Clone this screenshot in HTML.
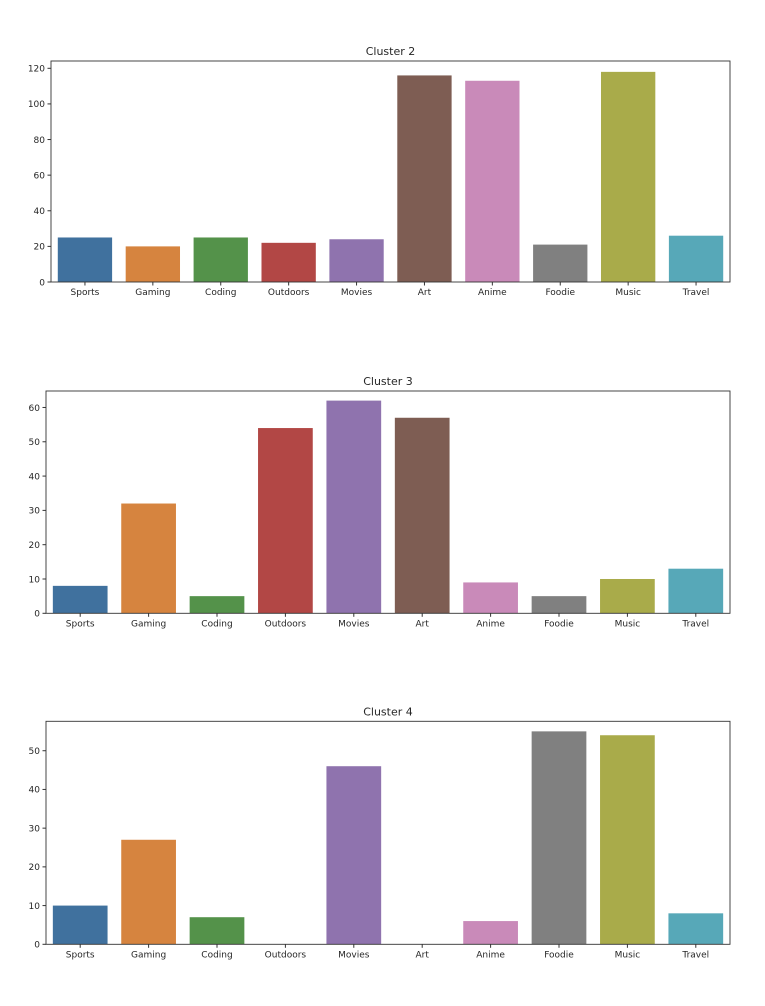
<!DOCTYPE html>
<html><head><meta charset="utf-8"><style>
body{margin:0;background:#fff;}
svg text{font-family:"DejaVu Sans","Liberation Sans",sans-serif;fill:#262626;}
</style></head><body>
<svg id="s" width="765" height="1001"></svg>
<script>
const categories=["Sports","Gaming","Coding","Outdoors","Movies","Art","Anime","Foodie","Music","Travel"];
const colors=["#40719e","#d6843f","#54924a","#b24745","#8f73ae","#7e5d53","#c98ab9","#808080","#a9ab4a","#57a8b8"];
const cluster2Values=[25,20,25,22,24,116,113,21,118,26];
const cluster3Values=[8,32,5,54,62,57,9,5,10,13];
const cluster4Values=[10,27,7,0,46,0,6,55,54,8];
const cluster2Ticks=[0,20,40,60,80,100,120];
const cluster3Ticks=[0,10,20,30,40,50,60];
const cluster4Ticks=[0,10,20,30,40,50];
const NS="http://www.w3.org/2000/svg";
const svg=document.getElementById('s');
function mk(t,a,p){const e=document.createElementNS(NS,t);for(const k in a)e.setAttribute(k,a[k]);(p||svg).appendChild(e);return e;}
function chart(name,title,vals,ticks,ymax,L,T,R,B){
  const g=mk('g',{});
  
  
  const y=v=>B-(v/ymax)*(B-T);
  const bw=(R-L)/categories.length;
  const x=i=>L+bw*i;
  vals.forEach((v,i)=>{
    const r=mk('rect',{x:x(i)+bw*0.1,y:y(v),width:bw*0.8,height:B-y(v),fill:colors[i]},g);
    
    
    mk('line',{x1:x(i)+bw/2,x2:x(i)+bw/2,y1:B,y2:B+3.5,stroke:'#333'},g);
    const t=mk('text',{x:x(i)+bw/2,y:B+13,'font-size':9,'text-anchor':'middle'},g);
    t.textContent=categories[i];
    
    
  });
  ticks.forEach(v=>{
    mk('line',{x1:L-3.5,x2:L,y1:y(v),y2:y(v),stroke:'#333'},g);
    const t=mk('text',{x:L-6,y:y(v)+3.3,'font-size':9,'text-anchor':'end'},g);
    t.textContent=v;
    
    
  });
  mk('rect',{x:L,y:T,width:R-L,height:B-T,fill:'none',stroke:'#333','stroke-width':0.9},g);
  const tt=mk('text',{x:(L+R)/2,y:T-6,'font-size':11,'text-anchor':'middle'},g);
  tt.textContent=title;
  
  
}
chart('cluster-2-chart','Cluster 2',cluster2Values,cluster2Ticks,124.1,51,61,730,282);
chart('cluster-3-chart','Cluster 3',cluster3Values,cluster3Ticks,64.8,46,391,730,613.3);
chart('cluster-4-chart','Cluster 4',cluster4Values,cluster4Ticks,57.6,46,721.3,730,944.3);
</script>
</body></html>
